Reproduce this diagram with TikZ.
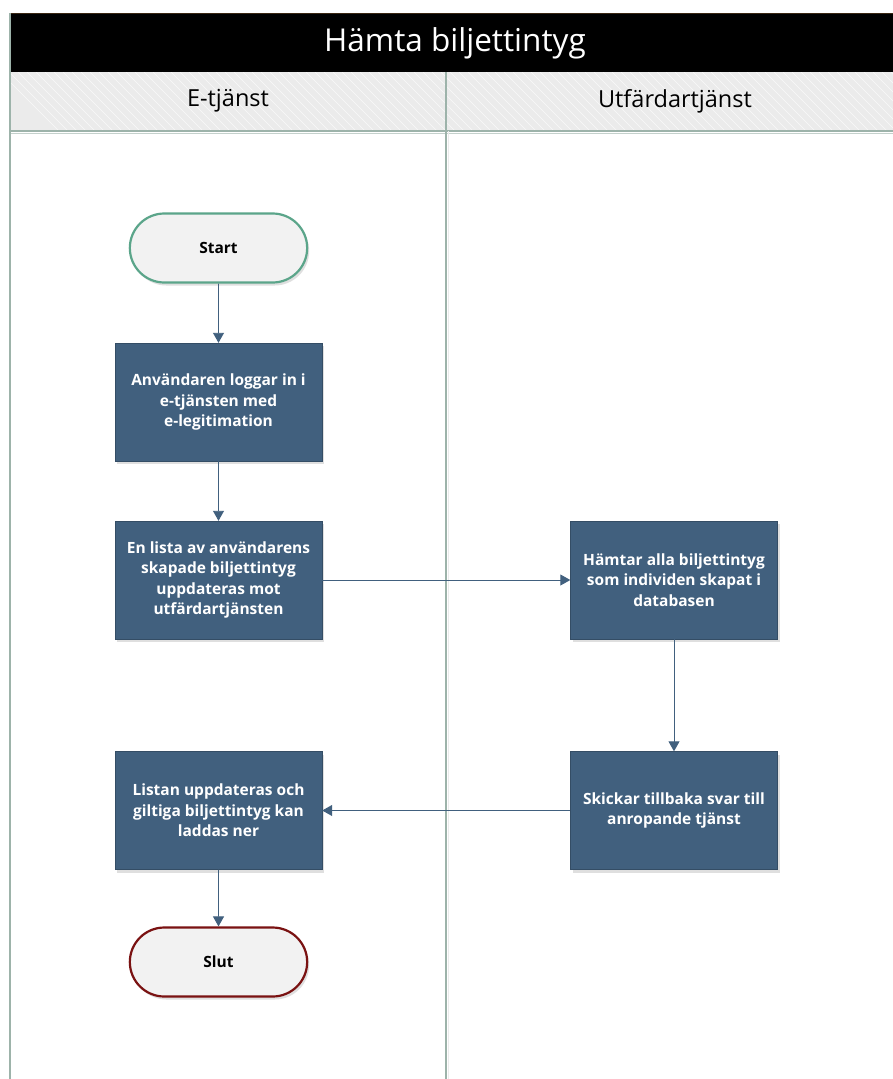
\documentclass[tikz,border=0pt]{standalone}
\usepackage{fontspec}
\setmainfont{Open Sans}
\usetikzlibrary{shadows,arrows.meta,shapes.misc}
\definecolor{boxblue}{HTML}{41607E}
\definecolor{lanegreen}{HTML}{9DB3AA}
\definecolor{headgray}{HTML}{EBEBEB}
\definecolor{startgreen}{HTML}{5BA58A}
\definecolor{slutred}{HTML}{7A1212}
\definecolor{termfill}{HTML}{F2F2F2}
\tikzset{
  procbox/.style={rectangle, fill=boxblue, draw=boxblue!80!black, line width=0.4pt,
    minimum width=207, minimum height=118, align=center, text=white,
    font=\fontsize{15.5}{20.5}\selectfont\bfseries,
    drop shadow={shadow xshift=2pt, shadow yshift=-3pt, opacity=0.25}},
  terminal/.style={rounded rectangle, fill=termfill, line width=2.2pt,
    minimum width=184, minimum height=69,
    font=\fontsize{15.5}{18}\selectfont\bfseries,
    drop shadow={shadow xshift=2pt, shadow yshift=-3pt, opacity=0.25}},
  flow/.style={draw=boxblue, line width=0.9pt, -{Triangle[length=10pt,width=11pt]}},
  lanelabel/.style={font=\fontsize{23.5}{28}\selectfont, text=black}
}
\begin{document}
\begin{tikzpicture}[x=1pt,y=-1pt]
\useasboundingbox (0,0) rectangle (893,1079);
\fill[white] (0,0) rectangle (893,1079);

% lane headers with faint diagonal hatching
\fill[headgray] (10,72) rectangle (893,131);
\begin{scope}
  \clip (10,72) rectangle (893,131);
  \foreach \i in {0,9,...,960} {
    \draw[white!70!headgray, line width=0.6pt] (\i,72) -- (\i+59,131);
  }
\end{scope}
\draw[lanegreen, line width=1.2pt] (10,131) -- (893,131);
\draw[lanegreen!60, line width=0.6pt] (10,133) -- (893,133);

% title bar
\fill[black] (10,13) rectangle (893,72);
\draw[black!70!brown, line width=1pt] (10,13) -- (893,13);
\node[text=white, font=\fontsize{31.5}{36}\selectfont] (title) at (455,43) {Hämta biljettintyg};

% lane borders
\draw[lanegreen, line width=1.3pt] (10,13) -- (10,1079);
\draw[lanegreen, line width=1.3pt] (446,72) -- (446,1079);
\draw[black!8, line width=1pt] (448,131) -- (448,1079);

\node[lanelabel] (laneA) at (228,101) {E-tjänst};
\node[lanelabel] (laneB) at (675,101) {Utfärdartjänst};

% nodes
\node[terminal, draw=startgreen] (start) at (218.5,248) {Start};
\node[procbox] (login) at (218.5,402) {Användaren loggar in i\\e-tjänsten med\\e-legitimation};
\node[procbox] (list) at (218.5,580) {En lista av användarens\\skapade biljettintyg\\uppdateras mot\\utfärdartjänsten};
\node[procbox] (fetch) at (674,580) {Hämtar alla biljettintyg\\som individen skapat i\\databasen};
\node[procbox] (reply) at (674,810.5) {Skickar tillbaka svar till\\anropande tjänst};
\node[procbox] (update) at (218.5,810.5) {Listan uppdateras och\\giltiga biljettintyg kan\\laddas ner};
\node[terminal, draw=slutred] (slut) at (218.5,962) {Slut};

% connectors
\draw[flow] (start) -- (login);
\draw[flow] (login) -- (list);
\draw[flow] (list) -- (fetch);
\draw[flow] (fetch) -- (reply);
\draw[flow] (reply) -- (update);
\draw[flow] (update) -- (slut);
\end{tikzpicture}
\end{document}
